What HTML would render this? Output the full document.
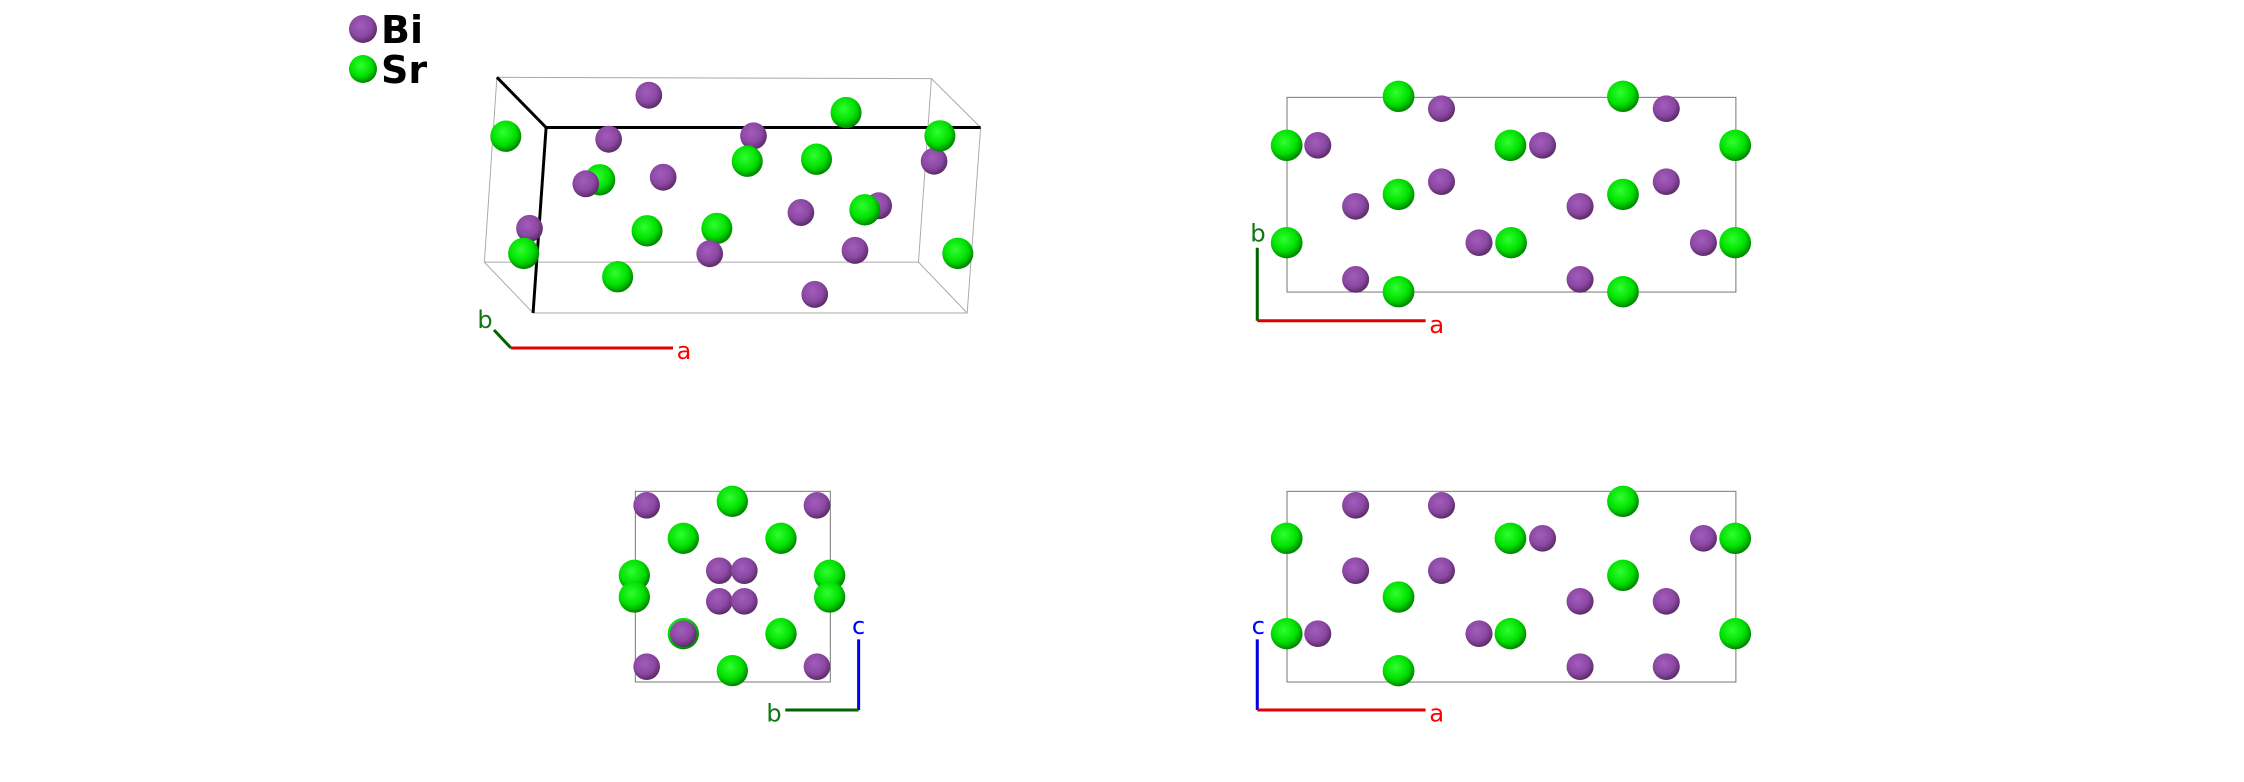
<!DOCTYPE html>
<html><head><meta charset="utf-8"><style>html,body{margin:0;padding:0;background:#fff}svg{display:block}</style></head><body>
<svg width="2244" height="782" viewBox="0 0 2244 782" xmlns="http://www.w3.org/2000/svg" font-family="'DejaVu Sans','Liberation Sans',sans-serif">
<defs>
<radialGradient id="sr" cx="0.42" cy="0.38" r="0.65"><stop offset="0" stop-color="#30ff30"/><stop offset="0.6" stop-color="#00e000"/><stop offset="1" stop-color="#007a00"/></radialGradient>
<radialGradient id="bi" cx="0.42" cy="0.38" r="0.65"><stop offset="0" stop-color="#a35cbc"/><stop offset="0.6" stop-color="#8b48a3"/><stop offset="1" stop-color="#55285f"/></radialGradient>
</defs>

<!-- Legend -->
<circle cx="363" cy="29" r="14" fill="url(#bi)"/><circle cx="363" cy="69" r="14" fill="url(#sr)"/>
<text x="381" y="43" font-size="38" font-weight="bold">Bi</text>
<text x="381" y="83" font-size="38" font-weight="bold">Sr</text>

<!-- Panel 1 -->
<g transform="matrix(0.988,0,0,1,3.2,0)">
<g fill="none" stroke="#aaa" stroke-width="1">
<polygon points="499.7,77.3 939.5,78.6 926.4,262.1 487,262.1"/>
<polygon points="549.5,127.5 989.3,127.5 975.7,313 536.3,313"/>
<line x1="939.5" y1="78.6" x2="989.3" y2="127.5"/><line x1="926.4" y1="262.1" x2="975.7" y2="313"/><line x1="487" y1="262.1" x2="536.3" y2="313"/>
</g>
<g stroke="#000" stroke-width="3" fill="none"><line x1="499.7" y1="77.3" x2="549.5" y2="127.5"/><line x1="549.5" y1="127.5" x2="989.3" y2="127.5"/><line x1="549.5" y1="127.5" x2="536.3" y2="313"/></g>
<g fill="url(#bi)"><circle cx="653.5" cy="95.2" r="13.5"/><circle cx="612.8" cy="139.2" r="13.5"/><circle cx="759.4" cy="135.9" r="13.5"/><circle cx="532.7" cy="228.4" r="13.5"/><circle cx="886.1" cy="205.8" r="13.5"/><circle cx="942.2" cy="161.2" r="13.5"/></g>
<g fill="url(#sr)"><circle cx="853.1" cy="112.6" r="15.7"/><circle cx="508.7" cy="136.2" r="15.7"/><circle cx="948.1" cy="135.9" r="15.7"/><circle cx="753.1" cy="161.2" r="15.7"/><circle cx="823.2" cy="159.2" r="15.7"/><circle cx="603.8" cy="179.8" r="15.7"/><circle cx="651.7" cy="230.8" r="15.7"/><circle cx="722.3" cy="228.4" r="15.7"/><circle cx="872.1" cy="209.8" r="15.7"/><circle cx="526.8" cy="253.4" r="15.7"/><circle cx="621.9" cy="276.7" r="15.7"/><circle cx="966.2" cy="253.4" r="15.7"/></g>
<g fill="url(#bi)"><circle cx="668" cy="177.2" r="13.5"/><circle cx="589.7" cy="183.8" r="13.5"/><circle cx="807.4" cy="212.5" r="13.5"/><circle cx="715.1" cy="253.7" r="13.5"/><circle cx="862.1" cy="250.4" r="13.5"/><circle cx="821.4" cy="294.4" r="13.5"/></g>
</g>
<line x1="494" y1="330" x2="511" y2="348" stroke="#006400" stroke-width="3"/>
<line x1="511" y1="348" x2="673" y2="348" stroke="#e00000" stroke-width="3"/>
<text x="485" y="328" font-size="24" fill="#117711" text-anchor="middle">b</text>
<text x="684" y="359" font-size="24" fill="#ff0000" text-anchor="middle">a</text>

<!-- Panel 2: a-b -->
<g transform="translate(1239.7,59) scale(0.338,0.3334)">
<rect x="140" y="115" width="1328" height="584" fill="none" stroke="#777" stroke-width="3"/>
<g fill="url(#sr)"><circle cx="470" cy="112" r="47"/><circle cx="1134" cy="112" r="47"/><circle cx="139" cy="259" r="47"/><circle cx="801" cy="259" r="47"/><circle cx="1466" cy="259" r="47"/><circle cx="470" cy="406" r="47"/><circle cx="1134" cy="406" r="47"/><circle cx="139" cy="551" r="47"/><circle cx="803" cy="551" r="47"/><circle cx="1466" cy="551" r="47"/><circle cx="470" cy="698" r="47"/><circle cx="1134" cy="698" r="47"/></g>
<g fill="url(#bi)"><circle cx="597" cy="149" r="40"/><circle cx="1262" cy="149" r="40"/><circle cx="231" cy="259" r="40"/><circle cx="896" cy="259" r="40"/><circle cx="597" cy="368" r="40"/><circle cx="1262" cy="368" r="40"/><circle cx="343" cy="442" r="40"/><circle cx="1007" cy="442" r="40"/><circle cx="708" cy="551" r="40"/><circle cx="1372" cy="551" r="40"/><circle cx="343" cy="661" r="40"/><circle cx="1007" cy="661" r="40"/></g>
<line x1="52" y1="566" x2="52" y2="785" stroke="#006400" stroke-width="9"/>
<line x1="52" y1="785" x2="550" y2="785" stroke="#e00000" stroke-width="9"/>
<text x="54" y="548" font-size="72" fill="#117711" text-anchor="middle">b</text>
<text x="583" y="822" font-size="72" fill="#ff0000" text-anchor="middle">a</text>
</g>

<!-- Panel 3: b-c -->
<g transform="translate(600,470) scale(0.3333)">
<rect x="106" y="64" width="585" height="572" fill="none" stroke="#777" stroke-width="3"/>
<g fill="url(#bi)"><circle cx="140" cy="106" r="40"/><circle cx="651" cy="106" r="40"/><circle cx="140" cy="590" r="40"/><circle cx="651" cy="590" r="40"/></g>
<g fill="url(#sr)"><circle cx="397" cy="94" r="47"/><circle cx="250" cy="205" r="47"/><circle cx="543" cy="205" r="47"/><circle cx="103" cy="316" r="47"/><circle cx="103" cy="381" r="47"/><circle cx="689" cy="316" r="47"/><circle cx="689" cy="381" r="47"/><circle cx="250" cy="491" r="47"/><circle cx="543" cy="491" r="47"/><circle cx="397" cy="602" r="47"/></g>
<g fill="url(#bi)"><circle cx="358" cy="302" r="40"/><circle cx="433" cy="302" r="40"/><circle cx="358" cy="394" r="40"/><circle cx="433" cy="394" r="40"/><circle cx="250" cy="491" r="40"/></g>
<line x1="776" y1="508" x2="776" y2="720" stroke="#0000e0" stroke-width="9"/>
<line x1="556" y1="720" x2="776" y2="720" stroke="#006400" stroke-width="9"/>
<text x="776" y="492" font-size="72" fill="#0000ff" text-anchor="middle">c</text>
<text x="522" y="755" font-size="72" fill="#117711" text-anchor="middle">b</text>
</g>

<!-- Panel 4: a-c -->
<g transform="translate(1239.7,470) scale(0.338,0.3334)">
<rect x="140" y="64" width="1328" height="572" fill="none" stroke="#777" stroke-width="3"/>
<g fill="url(#sr)"><circle cx="139" cy="205" r="47"/><circle cx="801" cy="205" r="47"/><circle cx="1466" cy="205" r="47"/><circle cx="1134" cy="94" r="47"/><circle cx="1134" cy="316" r="47"/><circle cx="470" cy="381" r="47"/><circle cx="139" cy="491" r="47"/><circle cx="801" cy="491" r="47"/><circle cx="1466" cy="491" r="47"/><circle cx="470" cy="602" r="47"/></g>
<g fill="url(#bi)"><circle cx="343" cy="106" r="40"/><circle cx="597" cy="106" r="40"/><circle cx="896" cy="205" r="40"/><circle cx="1372" cy="205" r="40"/><circle cx="343" cy="302" r="40"/><circle cx="597" cy="302" r="40"/><circle cx="1007" cy="394" r="40"/><circle cx="1262" cy="394" r="40"/><circle cx="231" cy="491" r="40"/><circle cx="708" cy="491" r="40"/><circle cx="1007" cy="590" r="40"/><circle cx="1262" cy="590" r="40"/></g>
<line x1="52" y1="508" x2="52" y2="720" stroke="#0000e0" stroke-width="9"/>
<line x1="52" y1="720" x2="550" y2="720" stroke="#e00000" stroke-width="9"/>
<text x="55" y="492" font-size="72" fill="#0000ff" text-anchor="middle">c</text>
<text x="583" y="755" font-size="72" fill="#ff0000" text-anchor="middle">a</text>
</g>
</svg>
</body></html>
